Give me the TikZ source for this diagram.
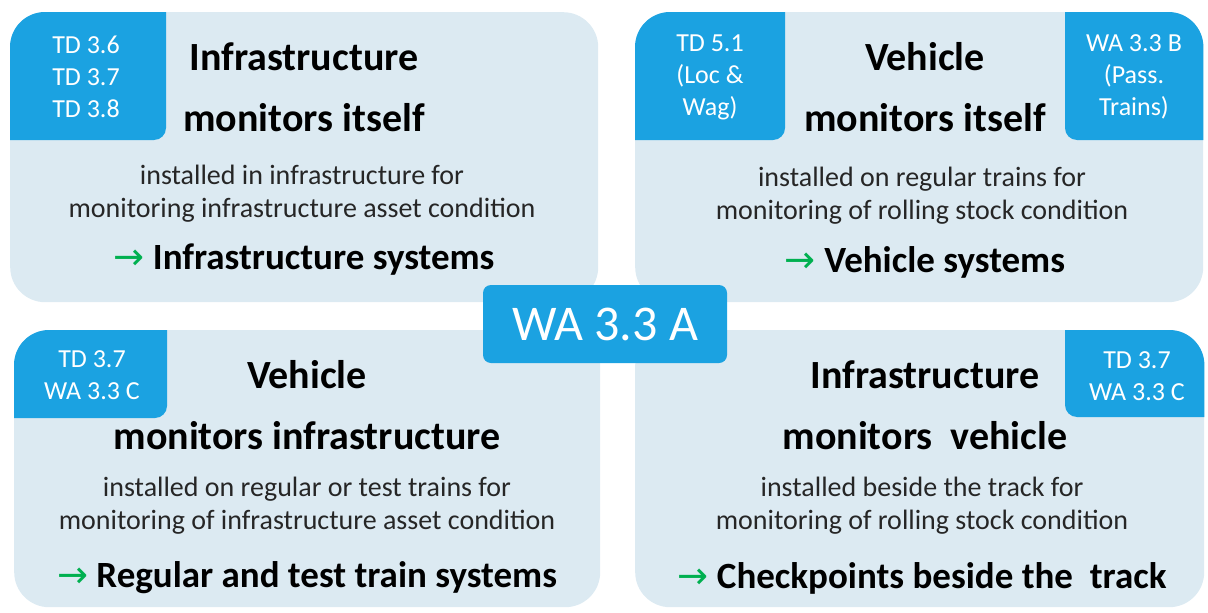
\documentclass[tikz,border=0pt]{standalone}
\usepackage{fontspec}
\setmainfont{Carlito}
\newfontfamily\arrowfont{DejaVu Sans}
\usepackage{tikz}
\usetikzlibrary{positioning}
\definecolor{ucpanel}{RGB}{220,234,242}
\definecolor{uctag}{RGB}{27,162,225}
\definecolor{ucarrow}{RGB}{0,176,80}

\newcommand{\goesto}{{\color{ucarrow}\arrowfont\mdseries\char"2192}\ }

\begin{document}
\begin{tikzpicture}[x=1pt, y=-1pt,
    panel/.style={fill=ucpanel, rounded corners=35pt, anchor=north west, inner sep=0pt},
    tagtext/.style={text=white, align=center, font=\fontsize{26}{32}\selectfont},
    title/.style={align=center, font=\bfseries\fontsize{40}{61}\selectfont},
    body/.style={align=center, text=black!85, font=\fontsize{28}{33}\selectfont},
    result/.style={font=\bfseries\fontsize{37}{40}\selectfont},
    hub/.style={fill=uctag, text=white, rounded corners=8pt, minimum width=244pt, minimum height=78pt, font=\fontsize{50}{50}\selectfont}]
  \useasboundingbox (0,0) rectangle (1208,613);

  % Panels
  \node[panel, minimum width=588pt, minimum height=290pt] (selfinfra) at (10,12) {};
  \node[panel, minimum width=568pt, minimum height=290pt] (selfveh) at (635,12) {};
  \node[panel, minimum width=586pt, minimum height=277pt] (vehinfra) at (14,330) {};
  \node[panel, minimum width=569pt, minimum height=277pt] (infraveh) at (635,330) {};

  % Tags, clipped to the panel corners
  \begin{scope}
    \clip[rounded corners=35pt] (selfinfra.north west) rectangle (selfinfra.south east);
    \fill[uctag, rounded corners=12pt] (-20,-20) rectangle (166,140);
  \end{scope}
  \begin{scope}
    \clip[rounded corners=35pt] (selfveh.north west) rectangle (selfveh.south east);
    \fill[uctag, rounded corners=12pt] (600,-20) rectangle (785,140);
    \fill[uctag, rounded corners=12pt] (1065,-20) rectangle (1230,140);
  \end{scope}
  \begin{scope}
    \clip[rounded corners=35pt] (vehinfra.north west) rectangle (vehinfra.south east);
    \fill[uctag, rounded corners=12pt] (-20,310) rectangle (167,418);
  \end{scope}
  \begin{scope}
    \clip[rounded corners=35pt] (infraveh.north west) rectangle (infraveh.south east);
    \fill[uctag, rounded corners=12pt] (1065,310) rectangle (1230,417);
  \end{scope}

  \node[tagtext] (tagsi) at (86,77) {TD 3.6\\TD 3.7\\TD 3.8};
  \node[tagtext] (tagsvl) at (710,77) {TD 5.1\\(Loc \&\\Wag)};
  \node[tagtext] (tagsvr) at (1134,77) {WA 3.3 B\\(Pass.\\Trains)};
  \node[tagtext] (tagvi) at (92,375) {TD 3.7\\WA 3.3 C};
  \node[tagtext] (tagiv) at (1137,376) {TD 3.7\\WA 3.3 C};

  % Infrastructure monitors itself
  \node[title] (titlesi) at (304,87) {Infrastructure\\monitors itself};
  \node[body] (bodysi) at (302,194) {installed in infrastructure for\\monitoring infrastructure asset condition};
  \node[result] (ressi) at (304,260) {\goesto Infrastructure systems};

  % Vehicle monitors itself
  \node[title] (titlesv) at (925,87) {Vehicle\\monitors itself};
  \node[body] (bodysv) at (922,196) {installed on regular trains for\\monitoring of rolling stock condition};
  \node[result] (ressv) at (925,262) {\goesto Vehicle systems};

  % Vehicle monitors infrastructure
  \node[title] (titlevi) at (307,405) {Vehicle\\monitors infrastructure};
  \node[body] (bodyvi) at (307,506) {installed on regular or test trains for\\monitoring of infrastructure asset condition};
  \node[result] (resvi) at (307,578) {\goesto Regular and test train systems};

  % Infrastructure monitors vehicle
  \node[title] (titleiv) at (925,405) {Infrastructure\\monitors\ \ vehicle};
  \node[body] (bodyiv) at (922,506) {installed beside the track for\\monitoring of rolling stock condition};
  \node[result] (resiv) at (922,578) {\goesto Checkpoints beside the\ \ track};

  % Centre label
  \node[hub] (wa) at (605,324) {WA 3.3 A};
\end{tikzpicture}
\end{document}
